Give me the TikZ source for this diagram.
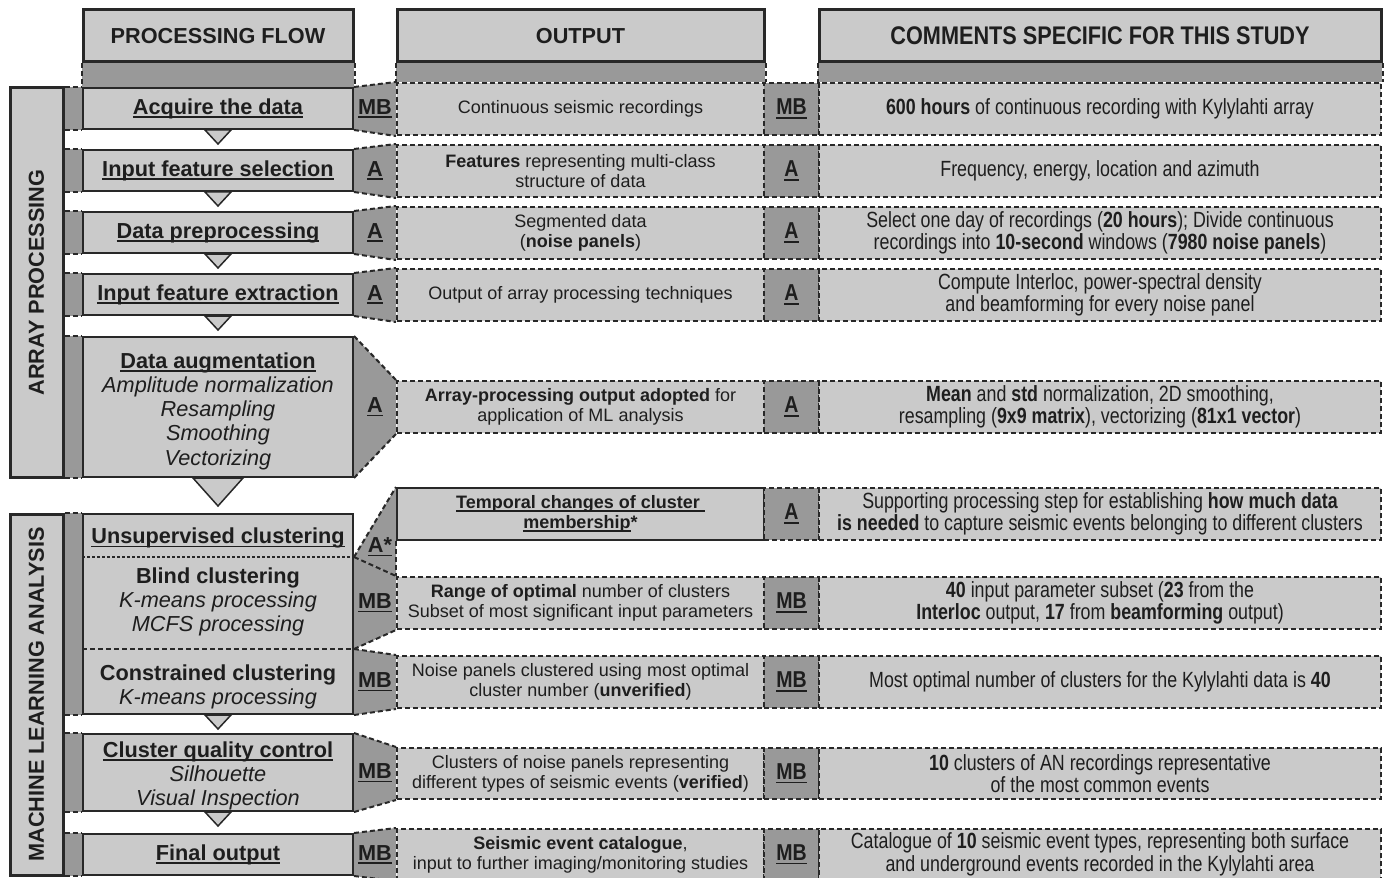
\documentclass[tikz,border=0pt]{standalone}
\usepackage{fontspec}
\setmainfont{Liberation Sans}
\newfontfamily\narrowfont[FakeStretch=0.81]{Liberation Sans}
\newfontfamily\hnarrowfont[FakeStretch=0.85]{Liberation Sans}
\usetikzlibrary{calc}
\pgfdeclarelayer{background}
\pgfsetlayers{background,main}
\definecolor{lg}{RGB}{202,202,202}
\definecolor{dg}{RGB}{153,153,153}
\definecolor{ln}{RGB}{40,40,40}
\definecolor{tx}{RGB}{30,30,30}
\newcommand\ulx[1]{\setbox0\hbox{#1}\leavevmode\rlap{\rule[-0.17em]{\wd0}{0.075em}}\box0}
\newcommand\fA{\fontsize{10.85}{12.15}\selectfont}
\newcommand\fO{\fontsize{9}{10}\selectfont}
\newcommand\fC{\narrowfont\fontsize{11}{10.25}\selectfont}
\newcommand\fCH{\hnarrowfont\bfseries\fontsize{12.75}{14}\selectfont}
\newcommand\fM{\hnarrowfont\bfseries\fontsize{11.5}{12}\selectfont}
\newcommand\rbox[7]{\node[#2, inner sep=0pt, minimum width={(#5-#3)*0.5pt}, minimum height={(#6-#4)*0.5pt}] (#1) at ({(#3+#5)/2},{(#4+#6)/2}) {#7};}
\tikzset{
 hdr/.style={draw=ln, line width=1.5pt, fill=lg, text=tx, font=\fA\bfseries},
 side/.style={draw=ln, line width=1.5pt, fill=lg},
 flowbox/.style={draw=ln, line width=1pt, fill=lg, text=tx, font=\fA, align=center},
 outbox/.style={draw=ln, line width=1pt, dash pattern=on 2.5pt off 1.5pt, fill=lg, text=tx, font=\fO, align=center},
 midbox/.style={outbox, fill=dg, font=\fM},
 combox/.style={outbox, font=\fC},
 dl/.style={draw=ln, line width=1pt, dash pattern=on 2.5pt off 1.5pt},
 tri/.style={draw=ln, line width=0.75pt, fill=lg, line join=miter},
 lab/.style={text=tx, font=\fA\bfseries, inner sep=0pt},
 txt/.style={text=tx, align=center, inner sep=0pt},
}
\begin{document}
\begin{tikzpicture}[x=0.5pt,y=-0.5pt]
\useasboundingbox (0,0) rectangle (1384,877);
% headers
\rbox{h1}{hdr}{83}{10}{353}{62}{PROCESSING FLOW}
\rbox{h2}{hdr}{397}{10}{764}{62}{OUTPUT}
\rbox{h3}{hdr,font=\fCH}{819}{10}{1381}{62}{COMMENTS SPECIFIC FOR THIS STUDY}
% side boxes
\rbox{s1}{side}{10}{88}{63}{477}{}
\rbox{s2}{side}{10}{514}{63}{875}{}
\node[txt, rotate=90, font=\fA\bfseries] (s1t) at (s1.center) {ARRAY PROCESSING};
\node[txt, rotate=90, font=\fA\bfseries] (s2t) at (s2.center) {MACHINE LEARNING ANALYSIS};
% flow boxes
\rbox{f1}{flowbox}{83}{88}{353}{129}{\textbf{\ulx{Acquire the data}}}
\rbox{f2}{flowbox}{83}{150}{353}{191}{\textbf{\ulx{Input feature selection}}}
\rbox{f3}{flowbox}{83}{212}{353}{253}{\textbf{\ulx{Data preprocessing}}}
\rbox{f4}{flowbox}{83}{274}{353}{315}{\textbf{\ulx{Input feature extraction}}}
\rbox{f5}{flowbox}{83}{337}{353}{477}{}
\rbox{f6}{flowbox}{83}{514}{353}{714}{}
\rbox{f7}{flowbox}{83}{734}{353}{811}{}
\rbox{f8}{flowbox}{83}{834}{353}{875}{\textbf{\ulx{Final output}}}
\node[txt, font=\fA] (f5t) at (218,411) {\textbf{\ulx{Data augmentation}}\\\textit{Amplitude normalization}\\\textit{Resampling}\\\textit{Smoothing}\\\textit{Vectorizing}};
\node[txt, font=\fA] (f7t) at (218,776) {\textbf{\ulx{Cluster quality control}}\\\textit{Silhouette}\\\textit{Visual Inspection}};
\node[txt, font=\fA] (u1) at (218,538) {\textbf{\ulx{Unsupervised clustering}}};
\node[txt, font=\fA] (u2) at (218,602) {\textbf{Blind clustering}\\\textit{K-means processing}\\\textit{MCFS processing}};
\node[txt, font=\fA] (u3) at (218,687) {\textbf{Constrained clustering}\\\textit{K-means processing}};
\coordinate (sa) at (218,557);
\coordinate (sb) at (218,649);
\draw[ln, line width=0.6pt, dash pattern=on 1.5pt off 1pt] (sa -| f6.west) -- (sa -| f6.east);
\draw[dl] (sb -| f6.west) -- (sb -| f6.east);
% output boxes
\rbox{o1}{outbox}{397}{83}{764}{135}{Continuous seismic recordings}
\rbox{o2}{outbox}{397}{145}{764}{197}{\textbf{Features} representing multi-class\\structure of data}
\rbox{o3}{outbox}{397}{207}{764}{259}{Segmented data\\(\textbf{noise panels})}
\rbox{o4}{outbox}{397}{269}{764}{321}{Output of array processing techniques}
\rbox{o5}{outbox}{397}{381}{764}{433}{\textbf{Array-processing output adopted} for\\application of ML analysis}
\rbox{o6}{outbox,solid}{397}{488}{764}{540}{\textbf{\ulx{Temporal changes of cluster\ }}\\\textbf{\ulx{membership}*}}
\rbox{o7}{outbox}{397}{577}{764}{629}{\textbf{Range of optimal} number of clusters\\Subset of most significant input parameters}
\rbox{o8}{outbox}{397}{656}{764}{708}{Noise panels clustered using most optimal\\cluster number (\textbf{unverified})}
\rbox{o9}{outbox}{397}{748}{764}{799}{Clusters of noise panels representing\\different types of seismic events (\textbf{verified})}
\rbox{o10}{outbox}{397}{829}{764}{880}{\textbf{Seismic event catalogue},\\input to further imaging/monitoring studies}
% middle boxes
\rbox{m1}{midbox}{764}{83}{819}{135}{\ulx{MB}}
\rbox{m2}{midbox}{764}{145}{819}{197}{\ulx{A}}
\rbox{m3}{midbox}{764}{207}{819}{259}{\ulx{A}}
\rbox{m4}{midbox}{764}{269}{819}{321}{\ulx{A}}
\rbox{m5}{midbox}{764}{381}{819}{433}{\ulx{A}}
\rbox{m6}{midbox}{764}{488}{819}{540}{\ulx{A}}
\rbox{m7}{midbox}{764}{577}{819}{629}{\ulx{MB}}
\rbox{m8}{midbox}{764}{656}{819}{708}{\ulx{MB}}
\rbox{m9}{midbox}{764}{748}{819}{799}{\ulx{MB}}
\rbox{m10}{midbox}{764}{829}{819}{880}{\ulx{MB}}
% comment boxes
\rbox{c1}{combox}{819}{83}{1381}{135}{\textbf{600 hours} of continuous recording with Kylylahti array}
\rbox{c2}{combox}{819}{145}{1381}{197}{Frequency, energy, location and azimuth}
\rbox{c3}{combox}{819}{207}{1381}{259}{Select one day of recordings (\textbf{20 hours}); Divide continuous\\recordings into \textbf{10-second} windows (\textbf{7980 noise panels})}
\rbox{c4}{combox}{819}{269}{1381}{321}{Compute Interloc, power-spectral density\\and beamforming for every noise panel}
\rbox{c5}{combox}{819}{381}{1381}{433}{\textbf{Mean} and \textbf{std} normalization, 2D smoothing,\\resampling (\textbf{9x9 matrix}), vectorizing (\textbf{81x1 vector})}
\rbox{c6}{combox}{819}{488}{1381}{540}{Supporting processing step for establishing \textbf{how much data}\\\textbf{is needed} to capture seismic events belonging to different clusters}
\rbox{c7}{combox}{819}{577}{1381}{629}{\textbf{40} input parameter subset (\textbf{23} from the\\\textbf{Interloc} output, \textbf{17} from \textbf{beamforming} output)}
\rbox{c8}{combox}{819}{656}{1381}{708}{Most optimal number of clusters for the Kylylahti data is \textbf{40}}
\rbox{c9}{combox}{819}{748}{1381}{799}{\textbf{10} clusters of AN recordings representative\\of the most common events}
\rbox{c10}{combox}{819}{829}{1381}{880}{Catalogue of \textbf{10} seismic event types, representing both surface\\and underground events recorded in the Kylylahti area}
% background: bands and trapezoids
\begin{pgfonlayer}{background}
\fill[dg] (h1.south west) rectangle (f1.north east);
\draw[dl] (h1.south west) -- (h1.south west |- f1.north);
\draw[dl] (h1.south east) -- (h1.south east |- f1.north);
\fill[dg] (h2.south west) rectangle (o1.north east);
\draw[dl] (h2.south west) -- (h2.south west |- o1.north);
\draw[dl] (h2.south east) -- (h2.south east |- o1.north);
\fill[dg] (h3.south west) rectangle (c1.north east);
\draw[dl] (h3.south west) -- (h3.south west |- c1.north);
\draw[dl] (h3.south east) -- (h3.south east |- c1.north);
\foreach \f/\s in {f1/s1,f2/s1,f3/s1,f4/s1,f5/s1,f6/s2,f7/s2,f8/s2}{
  \fill[dg] (\s.east |- \f.north) rectangle (\f.south west);
  \draw[dl] (\s.east |- \f.north) -- (\f.north west);
  \draw[dl] (\s.east |- \f.south) -- (\f.south west);
}
\foreach \f/\o in {f1/o1,f2/o2,f3/o3,f4/o4,f5/o5,f7/o9,f8/o10}{
  \fill[dg] (\f.north east) -- (\o.north west) -- (\o.south west) -- (\f.south east) -- cycle;
  \draw[dl] (\f.north east) -- (\o.north west);
  \draw[dl] (\f.south east) -- (\o.south west);
}
\fill[dg] (sa -| f6.east) -- (o6.north west) -- (o7.north west) -- cycle;
\draw[dl] (sa -| f6.east) -- (o6.north west);
\draw[dl] (o6.south west) -- (o7.north west);
\fill[dg] (sa -| f6.east) -- (o7.north west) -- (o7.south west) -- (sb -| f6.east) -- cycle;
\draw[dl] (sa -| f6.east) -- (o7.north west);
\draw[dl] (sb -| f6.east) -- (o7.south west);
\fill[dg] (sb -| f6.east) -- (o8.north west) -- (o8.south west) -- (f6.south east) -- cycle;
\draw[dl] (sb -| f6.east) -- (o8.north west);
\draw[dl] (f6.south east) -- (o8.south west);
\end{pgfonlayer}
% trapezoid labels
\node[lab] (l1) at ($(f1.east)!0.5!(o1.west)$) {\ulx{MB}};
\node[lab] (l2) at ($(f2.east)!0.5!(o2.west)$) {\ulx{A}};
\node[lab] (l3) at ($(f3.east)!0.5!(o3.west)$) {\ulx{A}};
\node[lab] (l4) at ($(f4.east)!0.5!(o4.west)$) {\ulx{A}};
\node[lab] (l5) at ($(f5.east)!0.5!(o5.west)$) {\ulx{A}};
\node[lab] (l6) at (380,547) {\ulx{A*}};
\node[lab] (l7) at ($(f6.east |- o7.west)!0.5!(o7.west)$) {\ulx{MB}};
\node[lab] (l8) at ($(f6.east |- o8.west)!0.5!(o8.west)$) {\ulx{MB}};
\node[lab] (l9) at ($(f7.east)!0.5!(o9.west)$) {\ulx{MB}};
\node[lab] (l10) at ($(f8.east)!0.5!(o10.west)$) {\ulx{MB}};
% flow arrows
\foreach \f in {f1,f2,f3,f4,f6,f7}{
  \draw[tri] ($(\f.south)+(-13,0)$) -- ($(\f.south)+(13,0)$) -- ($(\f.south)+(0,14)$) -- cycle;
}
\draw[tri] ($(f5.south)+(-25,0)$) -- ($(f5.south)+(25,0)$) -- ($(f5.south)+(0,28)$) -- cycle;
\end{tikzpicture}
\end{document}
